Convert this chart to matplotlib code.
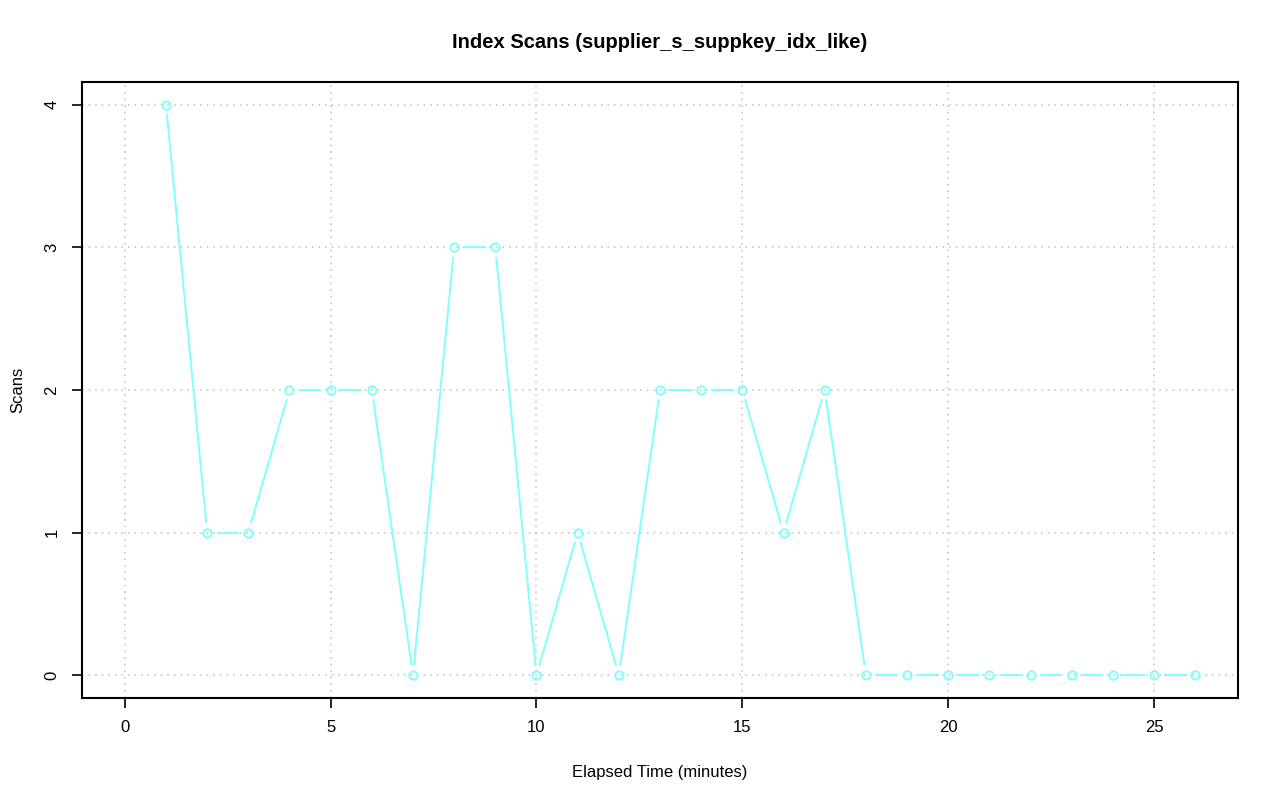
import numpy as np
import matplotlib
matplotlib.use("Agg")
import matplotlib.pyplot as plt

# ── data ──────────────────────────────────────────────────────────────────────
minutes = list(range(1, 27))
scans = [4, 1, 1, 2, 2, 2, 0, 3, 3, 0, 1, 0, 2, 2, 2, 1, 2,
         0, 0, 0, 0, 0, 0, 0, 0, 0]
x_ticks = [0, 5, 10, 15, 20, 25]
y_ticks = [0, 1, 2, 3, 4]

plt.rcParams['font.family'] = ['Liberation Sans', 'DejaVu Sans']

fig = plt.figure(figsize=(12.8, 8.01), dpi=100)
ax = fig.add_axes([82/1280, 1 - 698/801, (1238-82)/1280, (698-82)/801])

ax.set_xlim(-1.04, 27.04)
ax.set_ylim(-0.16, 4.16)

# grid like R's grid()
for t in x_ticks:
    ax.axvline(t, color="#BEBEBE", linestyle=(0, (1, 3.3)), linewidth=1.1, zorder=0)
for t in y_ticks:
    ax.axhline(t, color="#BEBEBE", linestyle=(0, (1, 3.3)), linewidth=1.1, zorder=0)

cyan = "#80FFFF"

# type="b": segments stop short of the points (gap in pixels)
gap = 10.5
pts = ax.transData.transform(np.column_stack([minutes, scans]))
inv = ax.transData.inverted()
for p0, p1 in zip(pts[:-1], pts[1:]):
    d = p1 - p0
    L = np.hypot(*d)
    if L <= 2 * gap:
        continue
    u = d / L
    a, b = inv.transform([p0 + u * gap, p1 - u * gap])
    ax.plot([a[0], b[0]], [a[1], b[1]], color=cyan, linewidth=1.4, zorder=2)

ax.plot(minutes, scans, linestyle="none", marker="o", markersize=6,
        markerfacecolor="none", markeredgecolor=cyan, markeredgewidth=1.4, zorder=4)

ax.set_xticks(x_ticks)
ax.set_yticks(y_ticks)
ax.set_yticklabels([str(v) for v in y_ticks], rotation=90, va="center")
ax.tick_params(direction="out", length=7.2, width=1.2, labelsize=12, pad=9)
for s in ax.spines.values():
    s.set_linewidth(1.5)

ax.set_xlabel("Elapsed Time (minutes)", fontsize=12, labelpad=21)
ax.set_ylabel("Scans", fontsize=12, labelpad=14)
fig.text((82+1238)/2/1280, 1 - 43/801, "Index Scans (supplier_s_suppkey_idx_like)",
         ha="center", va="center", fontsize=14.5, fontweight="bold")

plt.savefig("out.png", dpi=100)
